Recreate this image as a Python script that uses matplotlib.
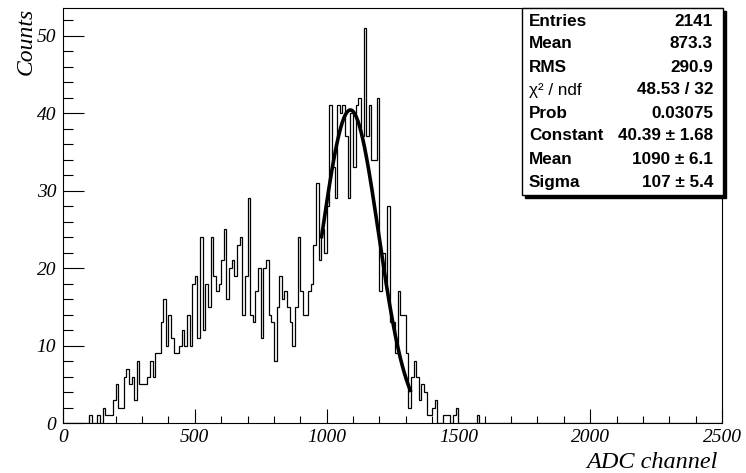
import matplotlib
matplotlib.use("Agg")
import matplotlib.pyplot as plt
import numpy as np
from matplotlib.patches import Rectangle
from matplotlib.ticker import MultipleLocator

# histogram: 10-channel bins, first filled bin starts at ADC 100
BIN_WIDTH = 10
X_MIN, X_MAX = 0, 2500
FIRST_CHANNEL = 100
counts_from_100 = [
    1, 0, 0, 1, 0, 2, 1, 1, 1, 3,
    5, 2, 2, 6, 7, 5, 6, 3, 8, 5,
    5, 5, 6, 8, 6, 9, 9, 13, 16, 10,
    14, 11, 9, 9, 10, 12, 10, 14, 10, 18,
    19, 11, 24, 12, 18, 15, 24, 19, 17, 18,
    21, 25, 16, 20, 21, 19, 23, 24, 14, 19,
    29, 14, 13, 17, 20, 11, 20, 21, 14, 13,
    8, 15, 19, 16, 17, 15, 13, 10, 15, 24,
    17, 14, 14, 17, 18, 23, 31, 21, 25, 22,
    28, 41, 33, 29, 41, 40, 41, 37, 29, 40,
    33, 41, 42, 37, 51, 37, 41, 34, 34, 42,
    17, 22, 18, 28, 13, 13, 9, 17, 14, 14,
    9, 2, 6, 8, 6, 3, 5, 4, 1, 1,
    2, 3, 0, 0, 1, 1, 1, 0, 1, 2,
    0, 0, 0, 0, 0, 0, 0, 1,
]

# gaussian fit result
fit_constant = 40.39
fit_mean = 1090
fit_sigma = 107
fit_range = (980, 1320)

stats_labels = ["Entries", "Mean", "RMS", "\u03c7\u00b2 / ndf", "Prob",
                "Constant", "Mean", "Sigma"]
stats_values = ["2141", "873.3", "290.9", "48.53 / 32", "0.03075",
                "40.39 \u00b1 1.68", "1090 \u00b1 6.1", "107 \u00b1 5.4"]

W, H = 746, 473

edges = np.arange(X_MIN, X_MAX + BIN_WIDTH, BIN_WIDTH)
counts = np.zeros(len(edges) - 1)
start = FIRST_CHANNEL // BIN_WIDTH
counts[start:start + len(counts_from_100)] = counts_from_100

fig = plt.figure(figsize=(W / 100, H / 100), dpi=100)
ax = fig.add_axes([63 / W, 1 - 423 / H, (722 - 63) / W, (423 - 8) / H])

ax.stairs(counts, edges, color="black", lw=0.9, baseline=0)

xf = np.linspace(fit_range[0], fit_range[1], 300)
yf = fit_constant * np.exp(-0.5 * ((xf - fit_mean) / fit_sigma) ** 2)
ax.plot(xf, yf, color="black", lw=2.6, solid_capstyle="butt")

ax.set_xlim(X_MIN, X_MAX)
ax.set_ylim(0, 53.55)

ax.xaxis.set_major_locator(MultipleLocator(500))
ax.xaxis.set_minor_locator(MultipleLocator(100))
ax.yaxis.set_major_locator(MultipleLocator(10))
ax.yaxis.set_minor_locator(MultipleLocator(2))

ax.tick_params(axis="x", which="major", direction="in", length=10, width=0.8,
               pad=4, top=False)
ax.tick_params(axis="x", which="minor", direction="in", length=5, width=0.8,
               top=False)
ax.tick_params(axis="y", which="major", direction="in", length=15, width=0.8,
               pad=5, right=False)
ax.tick_params(axis="y", which="minor", direction="in", length=7.5, width=0.8,
               right=False)
for lab in ax.get_xticklabels() + ax.get_yticklabels():
    lab.set_fontfamily("Liberation Serif")
    lab.set_fontstyle("italic")
    lab.set_fontsize(14)
for sp in ax.spines.values():
    sp.set_linewidth(0.8)

fig.text(718 / W, 1 - 462 / H, "ADC channel", ha="right", va="center",
         family="Liberation Serif", style="italic", size=17.5)
fig.text(26 / W, 1 - 8 / H, "Counts", ha="center", va="top", rotation=90,
         family="Liberation Serif", style="italic", size=17)

# stats box with shadow
bx0, bx1, by0, by1 = 522, 723, 8, 195
fig.patches.append(Rectangle(((bx0 + 3) / W, 1 - (by1 + 3) / H),
                             (bx1 - bx0) / W, (by1 - by0) / H,
                             transform=fig.transFigure, facecolor="black",
                             edgecolor="black", zorder=5))
fig.patches.append(Rectangle((bx0 / W, 1 - by1 / H),
                             (bx1 - bx0) / W, (by1 - by0) / H,
                             transform=fig.transFigure, facecolor="white",
                             edgecolor="black", lw=1.0, zorder=6))
for i, (lab, val) in enumerate(zip(stats_labels, stats_values)):
    y = 1 - (21 + 23 * i) / H
    weight = "normal" if "ndf" in lab else "bold"
    fig.text(529 / W, y, lab, ha="left", va="center", family="Liberation Sans",
             weight=weight, size=12.3, zorder=7)
    fig.text(713 / W, y, val, ha="right", va="center", family="Liberation Sans",
             weight="bold", size=12.3, zorder=7)

fig.savefig("out.png", dpi=100)
